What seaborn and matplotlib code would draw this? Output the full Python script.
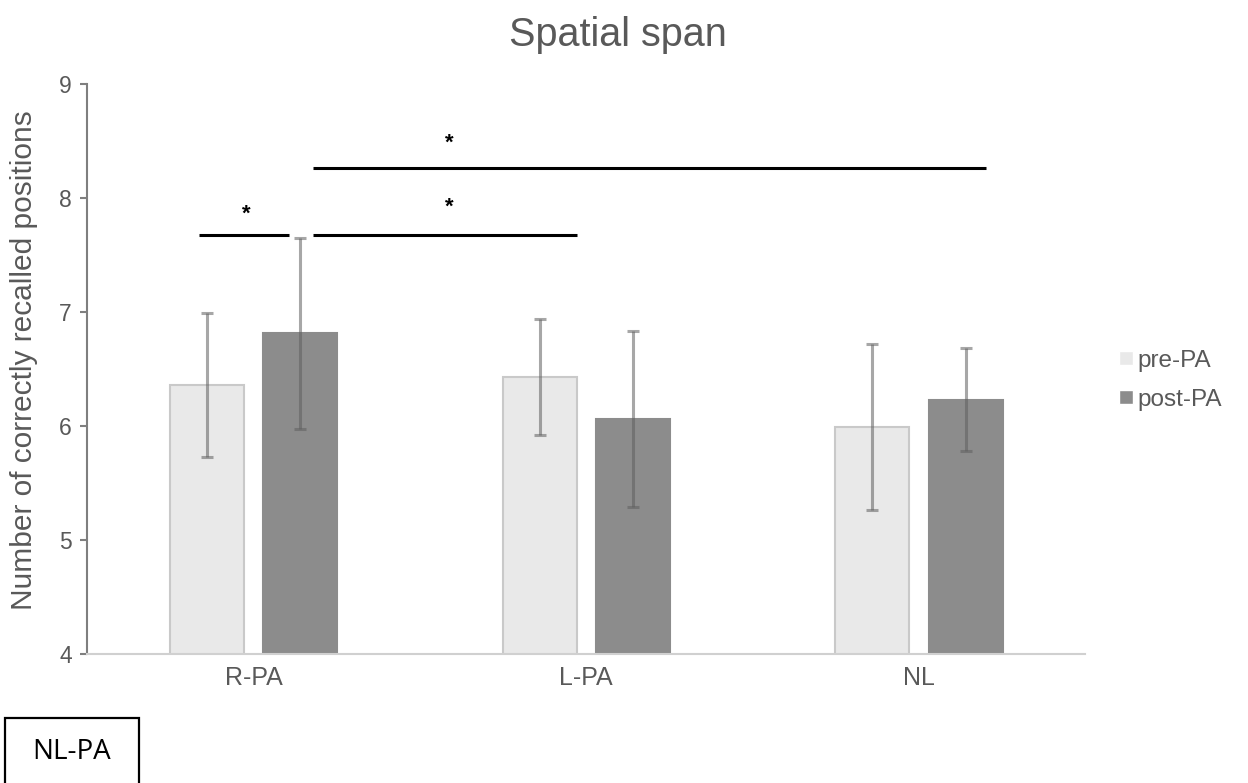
import pandas as pd
import seaborn as sns
import matplotlib.pyplot as plt
from matplotlib.patches import Rectangle


groups = ["R-PA", "L-PA", "NL"]
sessions = ["pre-PA", "post-PA"]
pre_means = [6.36, 6.43, 5.99]
post_means = [6.81, 6.06, 6.23]
pre_sd = [0.63, 0.51, 0.73]
post_sd = [0.84, 0.77, 0.45]
y_ticks = [4, 5, 6, 7, 8, 9]

# significance bars: (x start, x end, y) and stars (x, y)
sig_lines = [(-0.162, 0.108, 7.67), (0.18, 0.973, 7.67), (0.18, 2.2, 8.26)]
sig_stars = [(-0.02, 7.86), (0.59, 7.92), (0.59, 8.48)]

df = pd.DataFrame({
    "group": groups * 2,
    "session": [sessions[0]] * 3 + [sessions[1]] * 3,
    "mean": pre_means + post_means,
})

sns.set_style("white")
plt.rcParams['font.family'] = ['Liberation Sans', 'DejaVu Sans']
text_grey = "#595959"

fig = plt.figure(figsize=(12.48, 7.83), dpi=100)
ax = fig.add_axes([0.0697, 0.165, 0.8, 0.728])

sns.barplot(data=df, x="group", y="mean", hue="session", order=groups,
            hue_order=sessions, palette=["#e9e9e9", "#8c8c8c"],
            width=0.56, gap=0.207, errorbar=None, ax=ax, saturation=1)

# edges and error bars, using the bar positions seaborn made
edge_cols = ["#c9c9c9", "#8c8c8c"]
sds = [pre_sd, post_sd]
bar_conts = list(ax.containers)
for k, cont in enumerate(bar_conts):
    for bar, sd in zip(cont, sds[k]):
        bar.set_edgecolor(edge_cols[k])
        bar.set_linewidth(1.5)
        xc = bar.get_x() + bar.get_width() / 2
        ax.errorbar(xc, bar.get_height(), yerr=sd, color="#606060", alpha=0.55,
                    elinewidth=2.2, capsize=4.5, capthick=2.2, zorder=5)

for x0, x1, y in sig_lines:
    ax.plot([x0, x1], [y, y], color="black", lw=2.2, solid_capstyle="butt", zorder=6)
for x, y in sig_stars:
    ax.text(x, y, "*", ha="center", va="center", fontsize=16, color="black",
            fontweight="bold")

ax.set_xlim(-0.5, 2.5)
ax.set_ylim(4, 9)
ax.set_yticks(y_ticks)
ax.set_xlabel("")
ax.set_ylabel("Number of correctly recalled positions", fontsize=21.5, color=text_grey)
ax.yaxis.set_label_coords(-0.049, 0.515)

sns.despine(ax=ax)
ax.spines["left"].set_color("#7f7f7f")
ax.spines["left"].set_linewidth(1.5)
ax.spines["bottom"].set_color("#d0d0d0")
ax.spines["bottom"].set_linewidth(1.5)
ax.tick_params(axis="y", left=True, length=5, width=1.5, color="#7f7f7f",
               labelsize=16.5, labelcolor=text_grey, pad=6)
ax.tick_params(axis="x", bottom=False, labelsize=18, labelcolor=text_grey, pad=5)

leg = ax.legend(loc="center left", bbox_to_anchor=(1.012, 0.48), frameon=False,
                handlelength=0.55, handleheight=0.55, handletextpad=0.2,
                labelspacing=0.7, fontsize=17.5)
for t in leg.get_texts():
    t.set_color(text_grey)

fig.text(0.495, 0.955, "Spatial span", ha="center", va="center",
         fontsize=28.5, color=text_grey)

box = Rectangle((5 / 1248, -0.05), 134 / 1248, 0.133, transform=fig.transFigure,
                fill=False, edgecolor="black", lw=1.6)
fig.patches.append(box)
fig.text(72 / 1248, 1 - 752 / 783, "NL-PA", ha="center", va="center",
         fontsize=20, color="black", family=["Open Sans", "DejaVu Sans"])

fig.savefig("out.png", dpi=100)
